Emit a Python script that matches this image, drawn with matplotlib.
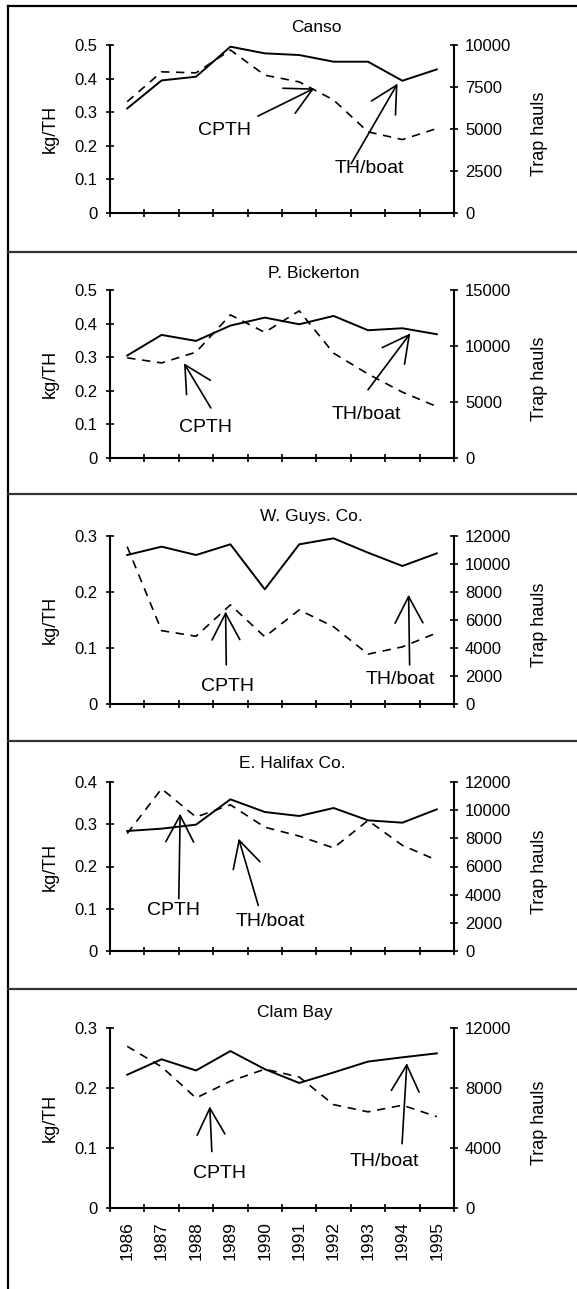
import matplotlib
matplotlib.use('Agg')
import matplotlib.pyplot as plt
from matplotlib.lines import Line2D

plt.rcParams['font.family'] = ['Liberation Sans', 'DejaVu Sans']

years = [1986, 1987, 1988, 1989, 1990, 1991, 1992, 1993, 1994, 1995]

# CPTH (kg/TH, left axis, dashed) and TH/boat (trap hauls, right axis, solid)
canso_cpth = [0.331, 0.42, 0.417, 0.485, 0.41, 0.39, 0.336, 0.241, 0.218, 0.251]
canso_thb = [6215, 7888, 8108, 9900, 9502, 9402, 9004, 9004, 7869, 8546]

bick_cpth = [0.298, 0.283, 0.315, 0.426, 0.374, 0.438, 0.312, 0.25, 0.196, 0.153]
bick_thb = [9149, 10990, 10455, 11822, 12535, 11940, 12683, 11406, 11584, 11050]

wguys_cpth = [0.281, 0.131, 0.121, 0.177, 0.120, 0.168, 0.138, 0.089, 0.102, 0.127]
wguys_thb = [10643, 11238, 10643, 11405, 8190, 11405, 11833, 10810, 9857, 10762]

ehal_cpth = [0.278, 0.384, 0.317, 0.346, 0.293, 0.272, 0.244, 0.309, 0.25, 0.215]
ehal_thb = [8521, 8686, 8970, 10769, 9870, 9586, 10154, 9278, 9112, 10059]

clam_cpth = [0.269, 0.235, 0.183, 0.211, 0.231, 0.218, 0.172, 0.160, 0.171, 0.152]
clam_thb = [8869, 9898, 9153, 10445, 9241, 8321, 9022, 9745, 10029, 10292]

titles = ['Canso', 'P. Bickerton', 'W. Guys. Co.', 'E. Halifax Co.', 'Clam Bay']
left_ticks = [[0, 0.1, 0.2, 0.3, 0.4, 0.5], [0, 0.1, 0.2, 0.3, 0.4, 0.5],
              [0, 0.1, 0.2, 0.3], [0, 0.1, 0.2, 0.3, 0.4], [0, 0.1, 0.2, 0.3]]
right_ticks = [[0, 2500, 5000, 7500, 10000], [0, 5000, 10000, 15000],
               [0, 2000, 4000, 6000, 8000, 10000, 12000],
               [0, 2000, 4000, 6000, 8000, 10000, 12000],
               [0, 4000, 8000, 12000]]
cpth = [canso_cpth, bick_cpth, wguys_cpth, ehal_cpth, clam_cpth]
thb = [canso_thb, bick_thb, wguys_thb, ehal_thb, clam_thb]

# arrows: (tail, tip, text pos) in (year index, kg/TH)
cpth_arrows = [((3.8, 0.288), (5.44, 0.371), (2.83, 0.246)),
               ((2.43, 0.149), (1.65, 0.282), (2.27, 0.091)),
               ((2.88, 0.070), (2.86, 0.165), (2.92, 0.031)),
               ((1.5, 0.124), (1.54, 0.325), (1.34, 0.095)),
               ((2.46, 0.094), (2.40, 0.169), (2.67, 0.057))]
thb_arrows = [((6.51, 0.146), (7.86, 0.385), (7.05, 0.131)),
              ((7.0, 0.203), (8.23, 0.371), (6.95, 0.129)),
              ((8.21, 0.070), (8.18, 0.195), (7.93, 0.043)),
              ((3.81, 0.108), (3.24, 0.266), (4.15, 0.069)),
              ((7.99, 0.107), (8.13, 0.241), (7.48, 0.077))]

W, H = 577, 1289
fig = plt.figure(figsize=(W / 100, H / 100), dpi=100)

# axes boxes in pixels (top, bottom) and title y, title x
boxes = [(45, 212.7), (290, 458), (536, 704), (782, 951), (1027.7, 1208)]
title_y = [27, 273, 517, 763, 1012]
title_x = [316, 314, 311, 292, 295]
seps = [252, 494, 741, 989]

x = list(range(len(years)))

for i in range(5):
    top, bot = boxes[i]
    ax = fig.add_axes([110 / W, 1 - bot / H, 344 / W, (bot - top) / H])
    ax2 = ax.twinx()
    ax.plot(x, cpth[i], color='k', lw=1.2, ls=(0, (5, 4)))
    ax2.plot(x, thb[i], color='k', lw=1.4)
    ax.set_xlim(-0.5, 9.5)
    ax.set_ylim(0, left_ticks[i][-1])
    ax2.set_ylim(0, right_ticks[i][-1])
    ax.set_yticks(left_ticks[i])
    ax.set_yticklabels(['0' if v == 0 else f'{v:g}' for v in left_ticks[i]])
    ax2.set_yticks(right_ticks[i])
    ax2.set_yticklabels([str(v) for v in right_ticks[i]])
    ax.set_xticks([k - 0.5 for k in range(11)])
    ax.set_xticklabels([])
    if i == 4:
        ax.set_xticks(x, minor=True)
        ax.set_xticklabels([str(y) for y in years], minor=True, rotation=90, fontsize=12.5)
        ax.tick_params(axis='x', which='minor', length=0, pad=9.5)
    for a in (ax, ax2):
        a.patch.set_visible(False)
        a.spines['top'].set_visible(False)
        for s in a.spines.values():
            s.set_linewidth(1.5)
        a.tick_params(which='major', direction='inout', length=6, width=1.2, labelsize=12)
    ax.spines['right'].set_visible(False)
    ax2.spines['left'].set_visible(False)
    ax2.spines['bottom'].set_visible(False)
    ax.tick_params(axis='y', pad=6)
    ax2.tick_params(axis='y', pad=5)
    ax.set_ylabel('kg/TH', fontsize=13, va='center')
    ax.yaxis.set_label_coords(-0.174, 0.5)
    ax2.set_ylabel('Trap hauls', fontsize=13, va='center')
    ax2.yaxis.set_label_coords(1.25, 0.47)

    for tail, tip, tpos in (cpth_arrows[i], thb_arrows[i]):
        ax.annotate('', xy=tip, xytext=tail,
                    arrowprops=dict(arrowstyle='->,head_length=1.9,head_width=1.0',
                                    lw=1.2, color='k', shrinkA=0, shrinkB=0))
    ax.text(*cpth_arrows[i][2], 'CPTH', ha='center', va='center', fontsize=14)
    ax.text(*thb_arrows[i][2], 'TH/boat', ha='center', va='center', fontsize=14)

    fig.text(title_x[i] / W, 1 - title_y[i] / H, titles[i], ha='center', va='center', fontsize=12.5)

# panel frame lines
fig.add_artist(Line2D([7.5 / W, 1], [1 - 5.5 / H, 1 - 5.5 / H], color='k', lw=1.6))
fig.add_artist(Line2D([7.5 / W, 7.5 / W], [0, 1 - 5.5 / H], color='k', lw=1.6))
for s in seps:
    fig.add_artist(Line2D([7.5 / W, 1], [1 - s / H, 1 - s / H], color='#333333', lw=1.6))

fig.savefig('out.png', dpi=100)
